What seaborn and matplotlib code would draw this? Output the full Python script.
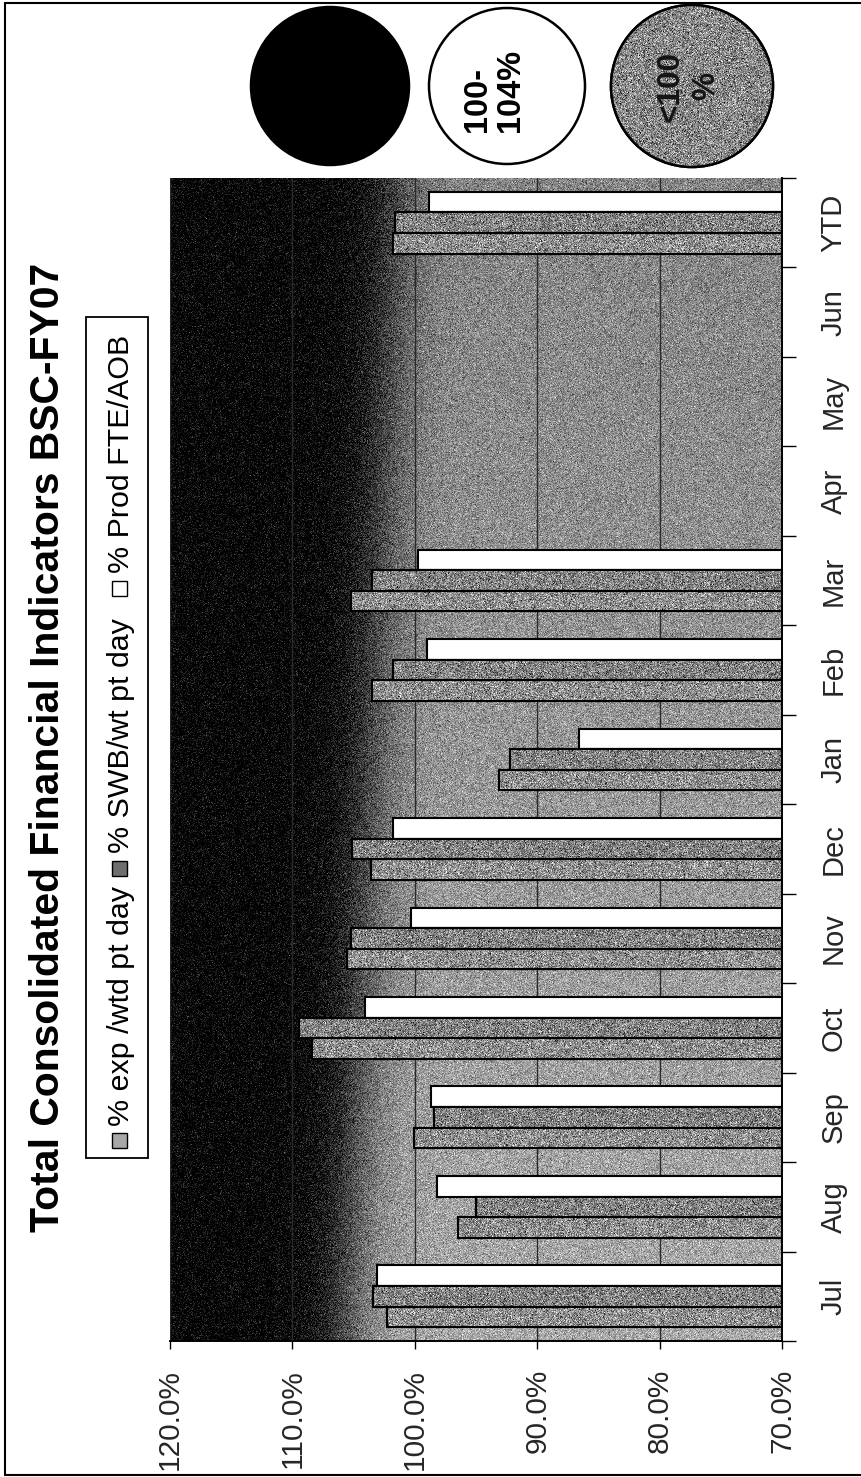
import numpy as np
import pandas as pd
import matplotlib
matplotlib.use("Agg")
import matplotlib.pyplot as plt
import seaborn as sns
from matplotlib.patches import Rectangle, Circle
from matplotlib import font_manager as fm

# ---- data -------------------------------------------------------------
categories = ["Jul", "Aug", "Sep", "Oct", "Nov", "Dec", "Jan", "Feb", "Mar",
              "Apr", "May", "Jun", "YTD"]
series = ["% exp /wtd pt day", "% SWB/wt pt day", "% Prod FTE/AOB"]
nan = np.nan
exp_pct = [102.3, 96.5, 100.1, 108.4, 105.5, 103.6, 93.1, 103.5, 105.2, nan, nan, nan, 101.8]
swb_pct = [103.4, 95.0, 98.4, 109.5, 105.2, 105.1, 92.2, 101.8, 103.5, nan, nan, nan, 101.6]
fte_pct = [103.1, 98.2, 98.7, 104.1, 100.3, 101.8, 86.6, 99.0, 99.7, nan, nan, nan, 98.8]
value_ticks = [70, 80, 90, 100, 110, 120]
title = "Total Consolidated Financial Indicators BSC-FY07"
band_labels = ["", "100-\n104%", "<100\n%"]

df = pd.DataFrame({
    "month": categories * 3,
    "series": [s for s in series for _ in categories],
    "value": exp_pct + swb_pct + fte_pct,
})

# ---- style ------------------------------------------------------------
sns.set_style("white")
avail = {f.name for f in fm.fontManager.ttflist}
if "Liberation Sans Narrow" in avail:
    FAM, K = "Liberation Sans Narrow", 1.0
else:
    FAM, K = "Liberation Sans", 0.84
plt.rcParams["font.family"] = [FAM, "DejaVu Sans"]

W, H = 861, 1477
fig = plt.figure(figsize=(W / 100, H / 100), dpi=100)
fig.patch.set_facecolor("white")

# plot area in pixel units
L, R, T, B = 170, 782, 178, 1341
ax = fig.add_axes([L / W, 1 - B / H, (R - L) / W, (B - T) / H])
rng = np.random.default_rng(11)

# ---- shaded background (black on the high side fading into grey) ------
ny, nx = B - T, R - L
u = np.linspace(0, 1, nx)[None, :]
w = np.linspace(0, 1, ny)[:, None]
centre = 0.37 - 0.08 * w
grey = 0.52 + 0.14 * w
bg = grey / (1 + np.exp(-(u - centre) / 0.03))
bg = np.clip(bg + rng.normal(0, 0.11, (ny, nx)), 0, 1)
ax.imshow(bg, cmap="gray", vmin=0, vmax=1, extent=(0, 1, 0, 1),
          transform=ax.transAxes, aspect="auto", zorder=0,
          interpolation="nearest")

# ---- bars ----------------------------------------------------------------
palette = {series[0]: "#909090", series[1]: "#848484", series[2]: "white"}
hue_order = series[::-1]
sns.barplot(data=df, x="value", y="month", hue="series",
            order=categories[::-1], hue_order=hue_order, orient="h",
            palette=palette, saturation=1, width=0.69, edgecolor="black",
            linewidth=1.5, errorbar=None, legend=False, ax=ax)

tex_level = {series[0]: 0.56, series[1]: 0.51}
for cont, name in zip(ax.containers, hue_order):
    if name not in tex_level:
        continue
    for bar in cont:
        v = bar.get_width()
        if not np.isfinite(v) or v <= 70:
            continue
        y0, h = bar.get_y(), bar.get_height()
        ncol = int((v - 70) * 12.3) + 2
        noise = np.clip(rng.normal(tex_level[name], 0.16, (22, ncol)), 0, 1)
        im = ax.imshow(noise, cmap="gray", vmin=0, vmax=1,
                       extent=(70, v, y0 + h, y0), aspect="auto",
                       zorder=bar.get_zorder() + 0.01, interpolation="nearest")
        im.set_clip_path(bar)
        ax.add_patch(Rectangle((70, y0), v - 70, h, fill=False, ec="black",
                               lw=1.5, zorder=bar.get_zorder() + 0.02))

ax.set_autoscale_on(False)
ax.set_xlim(120, 70)
ax.set_ylim(len(categories) - 0.5, -0.5)
ax.set_xlabel("")
ax.set_ylabel("")

# grid and axes
ax.set_axisbelow(True)
ax.xaxis.grid(True, color="#2a2a2a", lw=1)
ax.yaxis.grid(False)
for s in ("top", "left"):
    ax.spines[s].set_visible(False)
for s in ("right", "bottom"):
    ax.spines[s].set_color("black")
    ax.spines[s].set_linewidth(1.4)

ax.set_xticks(value_ticks)
ax.set_xticklabels([f"{t:.1f}%" for t in value_ticks], rotation=90,
                   va="top", ha="center", fontsize=25.5 * K)
ax.tick_params(axis="x", which="major", direction="out", length=6, width=1,
               pad=14, bottom=True, color="black")

ax.yaxis.tick_right()
ax.set_yticks(range(len(categories)))
ax.set_yticklabels(categories[::-1], rotation=90, va="center", ha="left",
                   fontsize=25 * K)
ax.set_yticks(np.arange(-0.5, len(categories), 1), minor=True)
ax.tick_params(axis="y", which="major", length=0, pad=27, right=False, left=False)
ax.tick_params(axis="y", which="minor", length=10, width=1, direction="out",
               right=True, left=False, color="black")

# ---- overlay in pixel units: frame, title, legend, indicator discs -----
ov = fig.add_axes([0, 0, 1, 1], zorder=-1)
ov.set_xlim(0, W)
ov.set_ylim(H, 0)
ov.axis("off")
ov.patch.set_visible(False)

ov.plot([5, W], [3, 3], color="black", lw=1.5)
ov.plot([5, 5], [3, H - 2], color="black", lw=1.5)
ov.plot([5, W], [H - 2, H - 2], color="black", lw=1.5)

ov.text(48.5, 747.5, title, rotation=90, ha="center", va="center",
        fontsize=35 * K, fontweight="bold", color="black")

# legend
ov.add_patch(Rectangle((86, 317), 62, 841, fc="white", ec="black", lw=1.3))
leg_items = [
    (series[0], "#a8a8a8", 1133, 1126),
    (series[1], "#6e6e6e", 861, 853),
    (series[2], "white", 581, 573),
]
for label, col, sq_y, txt_y in leg_items:
    ov.add_patch(Rectangle((112, sq_y), 15, 15, fc=col, ec="black", lw=1))
    ov.text(121, txt_y, label, rotation=90, ha="center", va="bottom",
            fontsize=26 * K, color="black")

# indicator discs
discs = [((330, 86), 79, "black"), ((507, 86), 78, "white"), ((692, 86), 81, "#8c8c8c")]
for (cx, cy), r, col in discs:
    c = Circle((cx, cy), r, fc=col, ec="black", lw=1.8)
    ov.add_patch(c)
    if col == "#8c8c8c":
        n = 2 * r
        tex = np.clip(rng.normal(0.53, 0.17, (n, n)), 0, 1)
        im = ov.imshow(tex, cmap="gray", vmin=0, vmax=1,
                       extent=(cx - r, cx + r, cy + r, cy - r), aspect="auto",
                       interpolation="nearest", zorder=c.get_zorder() + 0.01)
        im.set_clip_path(c)
        ov.add_patch(Circle((cx, cy), r, fill=False, ec="black", lw=1.8,
                            zorder=c.get_zorder() + 0.02))
ov.set_xlim(0, W)
ov.set_ylim(H, 0)

ov.text(494, 90, band_labels[1], rotation=90, ha="center", va="center",
        fontsize=28 * K, fontweight="bold", color="black",
        multialignment="left", linespacing=1.05)
ov.text(688, 86, band_labels[2], rotation=90, ha="center", va="center",
        fontsize=27 * K, fontweight="bold", color="#151515",
        multialignment="center", linespacing=1.25, zorder=5)

fig.savefig("out.png", dpi=100)
